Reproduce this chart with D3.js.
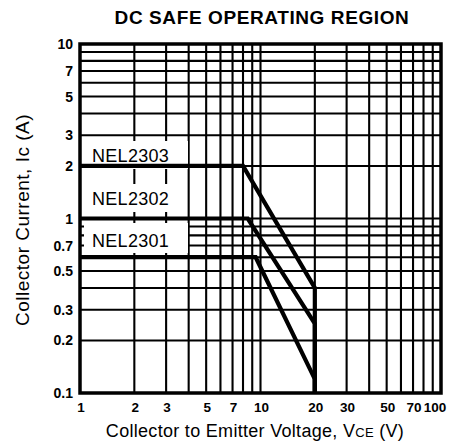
<!DOCTYPE html>
<html>
<head>
<meta charset="utf-8">
<script src="https://cdn.jsdelivr.net/npm/d3@7"></script>
<style>
  body { margin: 0; background: #fff; }
  text { font-family: "Liberation Sans", Arial, sans-serif; fill: #000; }
</style>
</head>
<body>
<svg></svg>
<script>
//Chart data
var xTickLabels = [1, 2, 3, 5, 7, 10, 20, 30, 50, 70, 100];
var yTickLabels = [0.1, 0.2, 0.3, 0.5, 0.7, 1, 2, 3, 5, 7, 10];
var seriesNames = ["NEL2303", "NEL2302", "NEL2301"];
var nel2303 = [[1, 2], [8, 2], [20, 0.4], [20, 0.1]];
var nel2302 = [[1, 1], [8.5, 1], [20, 0.25], [20, 0.1]];
var nel2301 = [[1, 0.6], [9.4, 0.6], [20, 0.12], [20, 0.1]];
var series = [nel2303, nel2302, nel2301];

//Set Dimensions of svg
var width = 451;
var height = 447;
var svg = d3.select('svg')
            .attr('width', width)
            .attr('height', height);

//Plot area edges
var plotLeft = 80, plotRight = 441, plotTop = 44, plotBottom = 393;

var x = d3.scaleLog().domain([1, 100]).range([plotLeft, plotRight]);
var y = d3.scaleLog().domain([0.1, 10]).range([plotBottom, plotTop]);

//Grid lines
var grid = svg.append("g").attr("stroke", "#000").attr("stroke-width", 2.1);
grid.selectAll("line.v")
    .data(x.ticks().filter(d => d > 1 && d < 100))
    .enter().append("line")
    .attr("class", "v")
    .attr("x1", d => x(d)).attr("x2", d => x(d))
    .attr("y1", plotTop).attr("y2", plotBottom);
grid.selectAll("line.h")
    .data(y.ticks().filter(d => d > 0.1 && d < 10))
    .enter().append("line")
    .attr("class", "h")
    .attr("y1", d => y(d)).attr("y2", d => y(d))
    .attr("x1", plotLeft).attr("x2", plotRight);

//Label boxes cover the grid
var labelPos = [
  {x: 92, y: 162, box: [84, 141, 104, 28]},
  {x: 92, y: 205, box: [84, 184, 96, 28]},
  {x: 92, y: 247, box: [84, 223, 104, 30]}
];
svg.append("g").selectAll("rect")
   .data(labelPos)
   .enter().append("rect")
   .attr("x", d => d.box[0]).attr("y", d => d.box[1])
   .attr("width", d => d.box[2]).attr("height", d => d.box[3])
   .attr("fill", "#fff");

//Curves
var line = d3.line().x(d => x(d[0])).y(d => y(d[1]));
svg.append("g").selectAll("path")
   .data(series)
   .enter().append("path")
   .attr("d", line)
   .attr("fill", "none")
   .attr("stroke", "#000")
   .attr("stroke-width", 4.2)
   .attr("stroke-linejoin", "miter");

svg.append("g").selectAll("text")
   .data(seriesNames)
   .enter().append("text")
   .attr("x", (d, i) => labelPos[i].x)
   .attr("y", (d, i) => labelPos[i].y)
   .attr("font-size", 18)
   .attr("letter-spacing", 0.3)
   .text(d => d);

//Border
svg.append("rect")
   .attr("x", plotLeft).attr("y", plotTop)
   .attr("width", plotRight - plotLeft).attr("height", plotBottom - plotTop)
   .attr("fill", "none").attr("stroke", "#000").attr("stroke-width", 3.5);

//Tick labels
svg.append("g").selectAll("text")
   .data(yTickLabels)
   .enter().append("text")
   .attr("x", 73)
   .attr("y", d => y(d) + 5)
   .attr("text-anchor", "end")
   .attr("font-size", 14)
   .attr("font-weight", "bold")
   .text(d => d);

svg.append("g").selectAll("text")
   .data(xTickLabels)
   .enter().append("text")
   .attr("x", d => d === 100 ? x(d) - 6 : x(d) + 1)
   .attr("y", 412)
   .attr("text-anchor", "middle")
   .attr("font-size", 13.5)
   .attr("font-weight", "bold")
   .text(d => d);

//Title and axis titles
svg.append("text")
   .attr("x", 262).attr("y", 24)
   .attr("text-anchor", "middle")
   .attr("font-size", 19)
   .attr("font-weight", "bold")
   .attr("letter-spacing", 0.6)
   .text("DC SAFE OPERATING REGION");

var xt = svg.append("text")
   .attr("x", 255).attr("y", 437)
   .attr("text-anchor", "middle")
   .attr("font-size", 18)
   .attr("letter-spacing", 0.3);
xt.append("tspan").text("Collector to Emitter Voltage, V");
xt.append("tspan").attr("font-size", 13).text("CE");
xt.append("tspan").text(" (V)");

svg.append("text")
   .attr("transform", "translate(29,220) rotate(-90)")
   .attr("text-anchor", "middle")
   .attr("font-size", 19)
   .attr("letter-spacing", 0.5)
   .text("Collector Current, Ic (A)");
</script>
</body>
</html>
